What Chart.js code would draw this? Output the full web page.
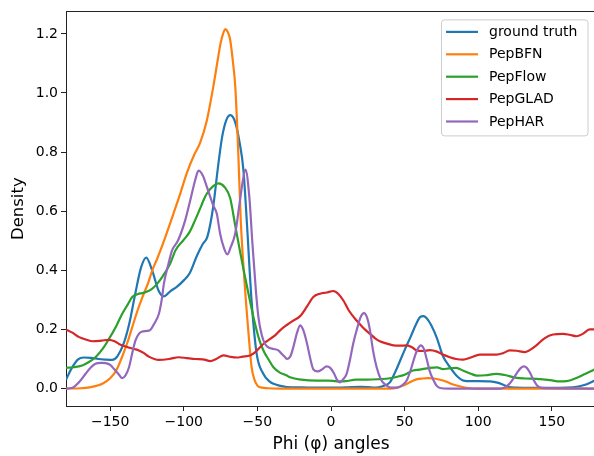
<!DOCTYPE html>
<html><head><meta charset="utf-8">
<script src="https://cdn.jsdelivr.net/npm/chart.js@4.4.1/dist/chart.umd.min.js"></script>
<style>
html,body{margin:0;padding:0;overflow:hidden;background:#fff;width:594px;height:456px}
#wrap{position:relative;width:600px;height:456px}
</style></head>
<body><div id="wrap"><canvas id="c" width="600" height="456"></canvas></div>
<script>
const seriesNames = ['ground truth','PepBFN','PepFlow','PepGLAD','PepHAR'];
const seriesColors = ['#1f77b4','#ff7f0e','#2ca02c','#d62728','#9467bd'];
const xTicks = [-150,-100,-50,0,50,100,150];
const yTicks = [0,0.2,0.4,0.6,0.8,1.0,1.2];

const gtPhi = [-180,-176,-172,-168,-163,-158,-153,-148.6,-145,-141,-137,-133,-129,-125.5,-121.5,-117,-113.5,-109,-105,-100,-96,-91,-87,-84,-80,-77,-74,-71,-68.3,-65,-62,-59.5,-57,-54,-50.5,-46,-42,-39,-35,-30,-20,-10,0,10,20,25,30,35,40,44,47,50,54,58,60.5,62.7,65,68,72,76,80,85,90,95,100,108,113,117,121,126,135,150,160,167,172,176,180];
const gtDensity = [0.03,0.07,0.098,0.105,0.104,0.10,0.098,0.097,0.11,0.15,0.22,0.32,0.41,0.443,0.40,0.33,0.312,0.33,0.343,0.366,0.39,0.45,0.49,0.513,0.615,0.74,0.85,0.91,0.925,0.90,0.83,0.74,0.55,0.30,0.118,0.05,0.025,0.016,0.01,0.005,0.004,0.003,0.003,0.004,0.006,0.005,0.003,0.008,0.021,0.06,0.095,0.13,0.174,0.22,0.242,0.245,0.238,0.215,0.17,0.11,0.078,0.045,0.027,0.025,0.025,0.024,0.02,0.013,0.005,0.003,0.002,0.002,0.003,0.006,0.012,0.02,0.03];

const bfnPhi = [-180,-170,-164,-158,-155,-150,-146,-142,-138,-135,-131,-128,-124,-121.4,-118,-115.8,-112,-107,-103,-98,-93,-89,-84.3,-80,-77,-75,-73,-71.9,-70,-68.5,-66.5,-65,-63,-61.3,-59,-56,-54,-52,-50,-47,-43,-35,0,40,45,49,53,58,62,66,70,74,78,83,88,93,100,180];
const bfnDensity = [0,0.001,0.004,0.011,0.017,0.035,0.06,0.106,0.16,0.208,0.27,0.31,0.36,0.40,0.44,0.468,0.52,0.592,0.65,0.728,0.79,0.83,0.908,1.02,1.11,1.168,1.205,1.216,1.205,1.18,1.10,1.02,0.80,0.57,0.38,0.185,0.075,0.03,0.01,0.003,0.001,0,0,0,0.003,0.01,0.02,0.031,0.034,0.035,0.034,0.03,0.024,0.014,0.007,0.002,0,0];

const flowPhi = [-180,-175,-169,-165,-160,-155,-150.8,-146,-141.8,-138,-135,-131,-128,-124,-121.4,-118,-114.7,-109.2,-105.6,-100.2,-96,-92.3,-88,-86.6,-84.3,-80,-76.4,-72,-68.5,-65,-62,-59.5,-56,-52.7,-49,-45.9,-42,-39.1,-35,-30,-27.8,-20,-10,-2,3,6,10,17,25,33,40,45,50,55.8,60,67,72,76,80,85,90,95,99,105,112,118,126,132,139.5,146,150,155,160,166.7,172,178,180];
const flowDensity = [0.07,0.072,0.078,0.088,0.106,0.135,0.168,0.21,0.253,0.285,0.31,0.32,0.323,0.33,0.338,0.355,0.377,0.423,0.468,0.502,0.53,0.57,0.62,0.637,0.66,0.685,0.694,0.68,0.645,0.55,0.47,0.405,0.32,0.242,0.17,0.129,0.095,0.072,0.055,0.044,0.038,0.03,0.027,0.027,0.025,0.024,0.025,0.03,0.03,0.032,0.035,0.04,0.047,0.061,0.064,0.07,0.072,0.066,0.068,0.07,0.06,0.05,0.044,0.045,0.05,0.046,0.036,0.034,0.033,0.03,0.028,0.024,0.025,0.036,0.048,0.062,0.067];

const gladPhi = [-180,-176,-171,-166,-162,-156,-150.8,-147,-144,-140,-137,-133,-130.5,-127,-123.7,-120,-117,-110,-103.3,-98,-92,-87,-82,-78,-73,-68,-64,-60,-55,-51,-48.2,-45,-41.4,-38,-34.6,-30,-25.6,-21,-16.5,-12,-7.5,-3,1.6,5,8.4,12,17.4,22,26.5,30,33.2,38,42.3,47,51.4,55,58,62.6,67,72,76,80.7,85,89.8,95,101,107,112.4,117,121.4,126,131.6,135,139.5,145,150.8,157.6,162,166.7,171,175.7,180];
const gladDensity = [0.20,0.19,0.174,0.165,0.16,0.162,0.165,0.16,0.151,0.143,0.138,0.133,0.129,0.12,0.108,0.1,0.097,0.1,0.106,0.103,0.10,0.099,0.093,0.1,0.112,0.107,0.105,0.108,0.112,0.125,0.14,0.155,0.168,0.18,0.197,0.215,0.23,0.245,0.276,0.31,0.321,0.325,0.33,0.32,0.298,0.265,0.23,0.205,0.185,0.17,0.16,0.152,0.146,0.145,0.146,0.14,0.129,0.127,0.13,0.125,0.115,0.106,0.1,0.098,0.105,0.115,0.115,0.115,0.12,0.129,0.128,0.123,0.13,0.146,0.17,0.183,0.185,0.182,0.177,0.185,0.2,0.2];

const harPhi = [-180,-176,-173.5,-170,-166.7,-163,-160,-156,-153,-150,-147.5,-144,-141.8,-139.5,-137.2,-135,-132.8,-130.5,-128.2,-125,-122.6,-120,-116.9,-115,-113.5,-110.5,-107.9,-104,-99,-95.6,-92,-90,-87,-84.3,-80,-77.6,-75.3,-73,-70.4,-68,-65.1,-62,-60,-58.1,-55.5,-53.5,-51,-49.3,-47,-44.8,-42,-39.1,-36,-33,-31,-30,-27.5,-25.6,-23,-21,-19,-16.5,-14,-12,-9,-6,-3,-0.5,2,4,6.1,8,10.6,13,15,17.4,20,22.4,24.5,26.5,28.5,31,34,37.8,41,44.6,48,51.4,54,57,59,61,63,65,67,69,71.7,74,80,115,118,121,124,127,129,131,133,135,137.5,140,143,180];
const harDensity = [0,0.002,0.01,0.028,0.05,0.072,0.084,0.087,0.086,0.08,0.067,0.047,0.035,0.045,0.072,0.12,0.163,0.185,0.193,0.195,0.199,0.22,0.253,0.3,0.355,0.42,0.468,0.5,0.57,0.637,0.71,0.737,0.72,0.682,0.62,0.592,0.524,0.48,0.454,0.48,0.524,0.63,0.70,0.741,0.65,0.5,0.33,0.242,0.18,0.151,0.138,0.134,0.13,0.115,0.105,0.10,0.11,0.14,0.19,0.214,0.2,0.157,0.1,0.065,0.058,0.065,0.075,0.07,0.052,0.03,0.021,0.03,0.05,0.1,0.15,0.197,0.24,0.255,0.24,0.197,0.13,0.072,0.03,0.01,0.003,0.003,0.01,0.027,0.061,0.11,0.135,0.146,0.135,0.1,0.06,0.035,0.01,0.002,0,0,0.004,0.015,0.035,0.058,0.07,0.075,0.07,0.055,0.03,0.01,0.002,0];

const phiArrays = [gtPhi,bfnPhi,flowPhi,gladPhi,harPhi];
const densityArrays = [gtDensity,bfnDensity,flowDensity,gladDensity,harDensity];

const FONT = "'DejaVu Sans', sans-serif";
function fmtX(v){ return v < 0 ? '\u2212' + Math.abs(v) : String(v); }

const datasets = seriesNames.map((name,i)=>({
  label: name,
  data: phiArrays[i].map((p,j)=>({x:p, y:densityArrays[i][j]})),
  borderColor: seriesColors[i],
  backgroundColor: seriesColors[i],
  borderWidth: 2.2,
  pointRadius: 0,
  fill: false,
  cubicInterpolationMode: 'monotone',
  order: seriesNames.length - i
}));

const framePlugin = {
  id: 'frame',
  afterDraw(chart){
    const {ctx, chartArea:a} = chart;
    ctx.save();
    ctx.strokeStyle = '#222';
    ctx.lineWidth = 1;
    ctx.beginPath();
    ctx.moveTo(a.left, Math.round(a.top)+0.5);
    ctx.lineTo(a.right, Math.round(a.top)+0.5);
    ctx.stroke();
    const bx = a.right - 154.5, by = a.top + 8.5, bw = 146.5, bh = 116;
    ctx.beginPath();
    if (ctx.roundRect) ctx.roundRect(bx, by, bw, bh, 3); else ctx.rect(bx,by,bw,bh);
    ctx.fillStyle = 'rgba(255,255,255,0.8)';
    ctx.fill();
    ctx.strokeStyle = '#cccccc';
    ctx.lineWidth = 1;
    ctx.stroke();
    ctx.font = '14px ' + FONT;
    ctx.textBaseline = 'middle';
    ctx.textAlign = 'left';
    chart.data.datasets.forEach((ds,i)=>{
      const y = by + 12 + i*22.4;
      ctx.strokeStyle = ds.borderColor;
      ctx.lineWidth = 2.2;
      ctx.beginPath();
      ctx.moveTo(bx + 4.5, y);
      ctx.lineTo(bx + 36.5, y);
      ctx.stroke();
      ctx.fillStyle = '#000';
      ctx.fillText(ds.label, bx + 47.5, y + 0.5);
    });
    ctx.restore();
  }
};

new Chart(document.getElementById('c'), {
  type: 'line',
  data: { datasets },
  plugins: [framePlugin],
  options: {
    responsive: false,
    animation: false,
    devicePixelRatio: 1,
    layout: { padding: { top: 11, right: 4, left: 0, bottom: 0 } },
    plugins: { legend: { display: false }, tooltip: { enabled: false } },
    elements: { line: { tension: 0.4 } },
    scales: {
      x: {
        type: 'linear', min: -180, max: 180,
        afterBuildTicks(s){ s.ticks = xTicks.map(v=>({value:v})); },
        afterFit(s){ s.height = 50; },
        grid: { drawOnChartArea: false, drawTicks: true, tickLength: 5, color: '#222', lineWidth: 1 },
        border: { display: true, color: '#222', width: 1 },
        ticks: { color: '#000', font: { family: FONT, size: 14 }, padding: 3, maxRotation: 0, autoSkip: false, callback: v => fmtX(v) },
        title: { display: true, text: 'Phi (\u03c6) angles', color: '#000', font: { family: FONT, size: 17 }, padding: { top: 0, bottom: 1.4 } }
      },
      y: {
        type: 'linear', min: -0.059, max: 1.276,
        afterBuildTicks(s){ s.ticks = yTicks.map(v=>({value:v})); },
        afterFit(s){ s.width = 66; },
        grid: { drawOnChartArea: false, drawTicks: true, tickLength: 5, color: '#222', lineWidth: 1 },
        border: { display: true, color: '#222', width: 1 },
        ticks: { color: '#000', font: { family: FONT, size: 14 }, padding: 3, autoSkip: false, callback: v => v.toFixed(1) },
        title: { display: true, text: 'Density', color: '#000', font: { family: FONT, size: 16.5 }, padding: { top: 9.3, bottom: 0 } }
      }
    }
  }
});
</script>
</body></html>
